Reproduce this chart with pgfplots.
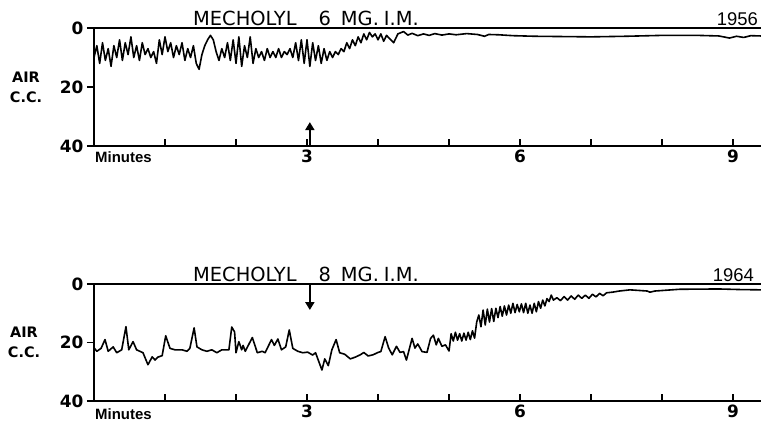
\documentclass[border=0pt]{standalone}
\usepackage{fontspec}
\setmainfont{DejaVu Sans}
\newfontfamily\lib{Liberation Sans}
\usepackage{pgfplots}
\pgfplotsset{compat=1.18}
\usetikzlibrary{arrows.meta}

\pgfplotsset{
  trace/.style={
    scale only axis, width=667bp,
    xmin=0, xmax=9.394, ymin=0, ymax=40, y dir=reverse,
    axis x line*=bottom, axis y line*=left,
    axis line style={line width=2.4bp,-},
    xtick={1,2,...,9}, xticklabels={,,3,,,6,,,9},
    ytick={0,20,40},
    xtick align=inside, ytick align=outside,
    major tick length=7bp,
    tick style={line width=1.8bp,black},
    tick label style={font=\bfseries\fontsize{17}{17}\selectfont},
    /pgf/number format/assume math mode=true,
    clip=false,
  },
  curve/.style={black, line width=1.6bp, line join=round, no marks},
}

\begin{document}
\begin{tikzpicture}
\path[use as bounding box] (0,0) rectangle (761bp,421bp);

% ---- 1956 ----
\begin{axis}[trace, height=118bp, at={(94bp,275bp)}, anchor=south west]
\addplot[curve] coordinates {
(0.00,10) (0.04,6) (0.08,12) (0.12,5) (0.16,11) (0.20,7) (0.24,13) (0.28,6)
(0.32,10) (0.36,4) (0.40,11) (0.44,5) (0.48,9) (0.52,3) (0.56,10) (0.60,6)
(0.64,11) (0.68,5) (0.72,9) (0.76,7) (0.80,10) (0.84,8) (0.88,12) (0.92,4)
(0.96,9) (1.00,3) (1.04,8) (1.08,5) (1.12,10) (1.16,6) (1.20,9) (1.24,5)
(1.28,11) (1.32,7) (1.36,10) (1.40,6) (1.44,12) (1.48,14) (1.52,9) (1.56,6)
(1.60,4) (1.64,2.5) (1.68,4) (1.72,8) (1.76,11) (1.80,7) (1.84,10) (1.88,5)
(1.92,11) (1.96,4) (2.00,12) (2.04,3) (2.08,13) (2.12,6) (2.16,10) (2.20,3)
(2.24,12) (2.28,7) (2.32,10) (2.36,8) (2.40,11) (2.44,7) (2.48,10) (2.52,8)
(2.56,10) (2.60,7) (2.64,10) (2.68,8) (2.72,9) (2.76,7) (2.80,10) (2.84,5)
(2.88,11) (2.92,4) (2.96,12) (3.00,4) (3.04,13) (3.08,5) (3.12,11) (3.16,6)
(3.20,12) (3.24,7) (3.28,11) (3.32,8) (3.36,10) (3.40,8) (3.44,9) (3.48,7)
(3.52,8) (3.56,5) (3.60,7) (3.64,4) (3.68,6) (3.72,3) (3.76,5) (3.80,2)
(3.84,4) (3.88,1.5) (3.92,3) (3.96,2) (4.00,4) (4.04,2) (4.08,4.5) (4.12,2.5)
(4.16,3.5) (4.22,5) (4.28,2) (4.36,1.2) (4.42,2.4) (4.48,1.8) (4.56,2.6)
(4.64,2.0) (4.72,2.5) (4.80,1.9) (4.90,2.4) (5.00,2.0) (5.10,2.3) (5.25,1.9)
(5.40,2.2) (5.50,2.8) (5.56,2.2) (5.70,2.3) (5.90,2.6) (6.20,2.8) (6.60,2.9)
(7.00,3.0) (7.50,2.8) (8.00,2.5) (8.50,2.5) (8.80,2.7) (8.95,3.4) (9.05,2.8)
(9.15,3.2) (9.25,2.6) (9.394,2.7)
};
\draw[line width=2.4bp] (axis cs:0,0) -- (axis cs:9.394,0);
\draw[line width=2.5bp, -{Triangle[width=9bp,length=8bp]}] (axis cs:3.04,40) -- (axis cs:3.04,31.9);
\node[anchor=base west, inner sep=0pt, font=\fontsize{19.5}{19.5}\selectfont]
  at (axis cs:1.394,0) [yshift=2.5bp] {MECHOLYL\hspace{22bp}6\hspace{10bp}MG.\hspace{5bp}I.M.};
\node[anchor=base east, inner sep=0pt, font=\lib\fontsize{18.5}{18.5}\selectfont]
  at (axis cs:9.394,0) [xshift=-3bp, yshift=2.5bp] {1956};
\node[align=center, font=\bfseries\fontsize{14.5}{20}\selectfont]
  at (axis cs:0,20) [xshift=-68bp] {AIR\\C.C.};
\node[anchor=north west, inner sep=0pt, font=\lib\bfseries\fontsize{15}{15}\selectfont]
  at (axis cs:0,40) [xshift=1bp, yshift=-5bp] {Minutes};
\end{axis}

% ---- 1964 ----
\begin{axis}[trace, height=117bp, at={(94bp,20bp)}, anchor=south west]
\addplot[curve] coordinates {
(0.00,21.8) (0.04,23) (0.10,22) (0.155,19) (0.20,23) (0.27,21.5) (0.32,23.5)
(0.39,22.5) (0.45,14.6) (0.49,22.5) (0.55,19.7) (0.60,22.5) (0.69,23.5)
(0.76,27.6) (0.82,24.9) (0.86,26) (0.90,25) (0.96,24.5) (1.01,17.7) (1.07,22)
(1.14,22.5) (1.24,22.5) (1.31,23) (1.35,22) (1.41,15) (1.45,21.5) (1.52,22.5)
(1.59,23) (1.66,22.5) (1.73,23.5) (1.80,22.5) (1.85,22.5) (1.90,22.5)
(1.94,14.7) (1.98,16.4) (2.00,23.5) (2.04,19.7) (2.08,22.5) (2.10,21)
(2.13,23) (2.23,18.3) (2.30,23.5) (2.37,23) (2.41,23.5) (2.50,19) (2.54,21)
(2.59,18.8) (2.64,22.5) (2.70,21.5) (2.75,15.7) (2.80,22) (2.87,23)
(2.94,23.5) (3.01,23.3) (3.08,24.3) (3.12,23.5) (3.21,29.4) (3.25,25.6)
(3.30,27.9) (3.35,22.5) (3.41,19) (3.46,23.5) (3.53,24) (3.61,25.6)
(3.68,25) (3.75,24.2) (3.80,23.4) (3.86,24.6) (3.93,24.2) (4.00,23.4)
(4.04,23.1) (4.10,18) (4.15,21.9) (4.20,24.2) (4.26,21.3) (4.31,23.4)
(4.36,23.1) (4.40,26) (4.48,18.6) (4.52,21.9) (4.56,20.5) (4.62,23.1)
(4.69,23.4) (4.74,18.6) (4.78,17.5) (4.82,20.8) (4.85,18.6) (4.90,21.3)
(4.95,20.8) (5.00,22.9) (5.03,17) (5.06,19.5) (5.09,16.5) (5.12,19.2)
(5.15,17) (5.18,19.5) (5.21,16.8) (5.24,19.2) (5.27,16.5) (5.30,19)
(5.33,16) (5.36,18.5) (5.39,13) (5.42,10.6) (5.45,14.6) (5.48,8.9)
(5.51,14) (5.54,8.6) (5.57,13) (5.60,8.4) (5.63,12.8) (5.66,8.3) (5.69,11.5)
(5.72,7.7) (5.75,11) (5.78,7.5) (5.81,10.6) (5.84,7.2) (5.87,10) (5.90,6.6)
(5.93,9.8) (5.96,7.0) (5.99,9.5) (6.02,6.8) (6.05,9.8) (6.08,6.6) (6.11,10)
(6.14,7.2) (6.17,10) (6.20,6.6) (6.23,9.5) (6.26,6.0) (6.29,8.3) (6.32,5.5)
(6.35,7.5) (6.38,5) (6.41,6.0) (6.44,3.8) (6.47,5.5) (6.52,4.7) (6.57,5.7)
(6.62,4.3) (6.67,5.5) (6.72,4.1) (6.77,5.2) (6.82,3.8) (6.87,4.9) (6.92,3.8)
(6.97,4.9) (7.02,3.5) (7.07,4.4) (7.12,3.2) (7.17,4.0) (7.22,3.0) (7.30,2.8)
(7.40,2.4) (7.55,2.0) (7.79,2.4) (7.83,2.8) (7.90,2.4) (8.25,1.8) (8.80,1.7)
(9.10,1.9) (9.394,2.0)
};
\draw[line width=2.4bp] (axis cs:0,0) -- (axis cs:9.394,0);
\draw[line width=2.5bp, -{Triangle[width=9bp,length=8bp]}] (axis cs:3.04,0) -- (axis cs:3.04,8.9);
\node[anchor=base west, inner sep=0pt, font=\fontsize{19.5}{19.5}\selectfont]
  at (axis cs:1.394,0) [yshift=2.5bp] {MECHOLYL\hspace{22bp}8\hspace{10bp}MG.\hspace{5bp}I.M.};
\node[anchor=base east, inner sep=0pt, font=\lib\fontsize{18.5}{18.5}\selectfont]
  at (axis cs:9.394,0) [xshift=-7bp, yshift=2.5bp] {1964};
\node[align=center, font=\bfseries\fontsize{14.5}{20}\selectfont]
  at (axis cs:0,20) [xshift=-70bp] {AIR\\C.C.};
\node[anchor=north west, inner sep=0pt, font=\lib\bfseries\fontsize{15}{15}\selectfont]
  at (axis cs:0,40) [xshift=1bp, yshift=-7bp] {Minutes};
\end{axis}
\end{tikzpicture}
\end{document}
